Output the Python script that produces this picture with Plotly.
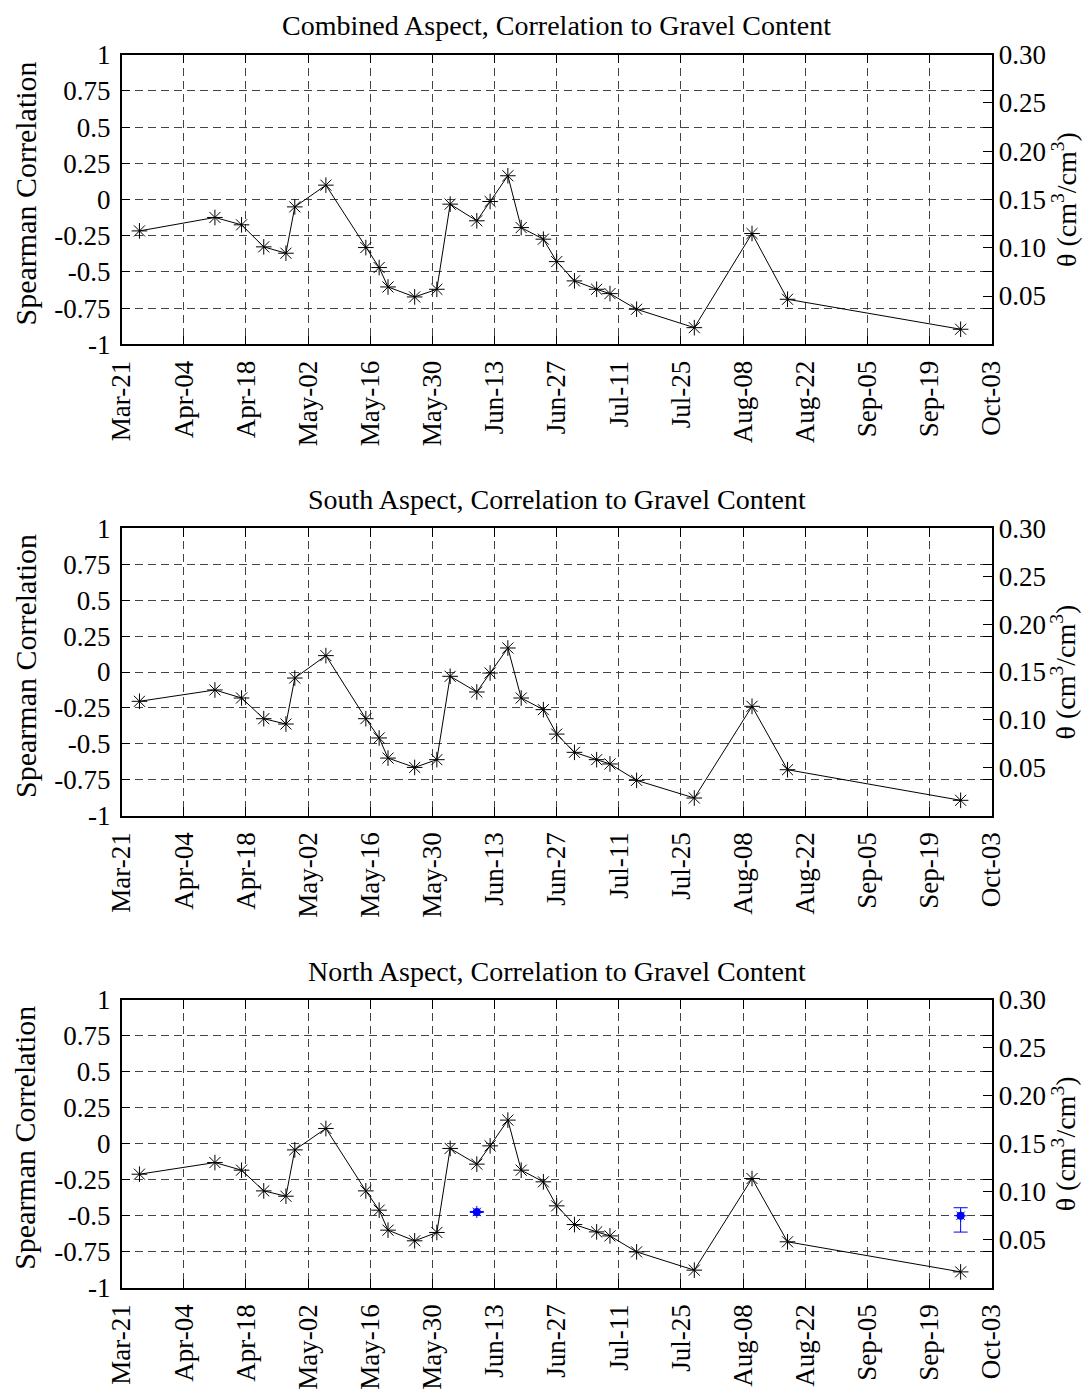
import plotly.graph_objects as go

# ---- data ----
dates = ["2009-03-25", "2009-04-11", "2009-04-17", "2009-04-22", "2009-04-27", "2009-04-29",
         "2009-05-06", "2009-05-15", "2009-05-18", "2009-05-20", "2009-05-26", "2009-05-31",
         "2009-06-03", "2009-06-09", "2009-06-12", "2009-06-16", "2009-06-19", "2009-06-24",
         "2009-06-27", "2009-07-01", "2009-07-06", "2009-07-09", "2009-07-15", "2009-07-28",
         "2009-08-10", "2009-08-18", "2009-09-26"]

combined = [-0.217, -0.124, -0.175, -0.327, -0.371, -0.051, 0.099, -0.332, -0.470, -0.604,
            -0.673, -0.620, -0.032, -0.147, -0.014, 0.164, -0.194, -0.274, -0.429, -0.562,
            -0.620, -0.650, -0.758, -0.885, -0.235, -0.689, -0.896]

south = [-0.204, -0.125, -0.181, -0.325, -0.362, -0.042, 0.114, -0.325, -0.459, -0.599,
         -0.664, -0.610, -0.030, -0.139, -0.007, 0.167, -0.181, -0.262, -0.432, -0.559,
         -0.610, -0.640, -0.754, -0.877, -0.239, -0.680, -0.893]

north = [-0.211, -0.130, -0.183, -0.327, -0.364, -0.042, 0.107, -0.327, -0.461, -0.600,
         -0.674, -0.616, -0.032, -0.141, -0.014, 0.165, -0.183, -0.264, -0.431, -0.561,
         -0.612, -0.640, -0.751, -0.878, -0.241, -0.681, -0.890]

theta_dates = ["2009-06-09", "2009-09-26"]
theta_vals = [0.079, 0.075]
theta_err_plus = [0.0005, 0.0084]
theta_err_minus = [0.0005, 0.017]

titles = ["Combined Aspect, Correlation to Gravel Content",
          "South Aspect, Correlation to Gravel Content",
          "North Aspect, Correlation to Gravel Content"]
series = [combined, south, north]

left_ticks = [-1, -0.75, -0.5, -0.25, 0, 0.25, 0.5, 0.75, 1]
left_labels = ["-1", "-0.75", "-0.5", "-0.25", "0", "0.25", "0.5", "0.75", "1"]
right_ticks = [0.05, 0.10, 0.15, 0.20, 0.25, 0.30]
right_labels = ["0.05", "0.10", "0.15", "0.20", "0.25", "0.30"]

left_title = "Spearman Correlation"
right_title = "θ (cm<sup>3</sup>/cm<sup>3</sup>)"

# ---- layout geometry (page has an 8px body margin) ----
OFF = 8
W, H = 1091 - 2 * OFF, 1397 - 2 * OFF
FONT = "Liberation Serif"
FS_TICK = 27
FS_TITLE = 28
FS_AXT = 30
FS_AXT_R = 28


def px_x(x):
    return (x - OFF) / W


def px_y(y):
    return 1 - (y - OFF) / H


xdom = [px_x(121.7), px_x(991.7)]
panels_px = [(54.7, 344.3), (528.3, 815.7), (1000.0, 1287.7)]

fig = go.Figure()
layout = dict(width=W, height=H, margin=dict(l=0, r=0, t=0, b=0, autoexpand=False),
              paper_bgcolor="white", plot_bgcolor="white", showlegend=False,
              font=dict(family=FONT, size=FS_TICK, color="black"), annotations=[])

for i, (top, bot) in enumerate(panels_px):
    k = i + 1
    xa = "x" if k == 1 else f"x{k}"
    ya = f"y{2 * k - 1}" if k > 1 else "y"
    ya2 = f"y{2 * k}"
    ydom = [px_y(bot), px_y(top)]

    fig.add_trace(go.Scatter(x=dates, y=series[i], mode="lines+markers",
                             line=dict(color="black", width=1),
                             marker=dict(symbol="asterisk-open", size=13, color="black",
                                         line=dict(color="black", width=1)),
                             xaxis=xa, yaxis=ya))
    if k == 3:
        fig.add_trace(go.Scatter(x=theta_dates, y=theta_vals, mode="markers",
                                 marker=dict(symbol="circle", size=8, color="blue",
                                             line=dict(width=0)),
                                 error_y=dict(type="data", array=theta_err_plus,
                                              arrayminus=theta_err_minus,
                                              color="blue", thickness=1, width=7),
                                 xaxis=xa, yaxis=ya2))
        fig.add_trace(go.Scatter(x=theta_dates, y=theta_vals, mode="markers",
                                 marker=dict(symbol="asterisk-open", size=10, color="blue",
                                             line=dict(color="blue", width=1)),
                                 xaxis=xa, yaxis=ya2))
    else:
        fig.add_trace(go.Scatter(x=[], y=[], xaxis=xa, yaxis=ya2))

    xkey = "xaxis" if k == 1 else f"xaxis{k}"
    ykey = "yaxis" if k == 1 else f"yaxis{2 * k - 1}"
    y2key = f"yaxis{2 * k}"

    layout[xkey] = dict(domain=xdom, anchor=ya, type="date", automargin=False,
                        range=["2009-03-21", "2009-10-03"],
                        tick0="2009-03-21", dtick=14 * 86400000, tickformat="%b-%d",
                        tickangle=-90, ticks="inside", ticklen=9, tickcolor="black",
                        ticklabelstandoff=4,
                        showline=True, linecolor="black", linewidth=1.5, mirror="ticks",
                        showgrid=True, gridcolor="#444", griddash="8px,5px", gridwidth=1,
                        zeroline=False, tickfont=dict(family=FONT, size=FS_TICK))
    layout[ykey] = dict(domain=ydom, anchor=xa, range=[-1, 1], automargin=False,
                        tickvals=left_ticks, ticktext=left_labels,
                        ticks="inside", ticklen=9, tickcolor="black",
                        ticklabelstandoff=4,
                        showline=True, linecolor="black", linewidth=1.5, mirror="ticks",
                        showgrid=True, gridcolor="#444", griddash="8px,5px", gridwidth=1,
                        zeroline=False, tickfont=dict(family=FONT, size=FS_TICK))
    layout[y2key] = dict(overlaying=ya, anchor=xa, side="right", range=[0, 0.3],
                         automargin=False,
                         tickvals=right_ticks, ticktext=right_labels,
                         ticks="inside", ticklen=9, tickcolor="black",
                         showline=True, linecolor="black", linewidth=1.5,
                         showgrid=False, zeroline=False, tickfont=dict(family=FONT, size=FS_TICK))
    yc = px_y((top + bot) / 2)
    layout["annotations"].append(dict(text=titles[i], xref="paper", yref="paper",
                                      x=(xdom[0] + xdom[1]) / 2, y=px_y(top - 29),
                                      xanchor="center", yanchor="middle", showarrow=False,
                                      font=dict(family=FONT, size=FS_TITLE)))
    layout["annotations"].append(dict(text=left_title, xref="paper", yref="paper",
                                      x=px_x(25), y=px_y((top + bot) / 2 - 6), textangle=-90,
                                      xanchor="center", yanchor="middle", showarrow=False,
                                      font=dict(family=FONT, size=FS_AXT)))
    layout["annotations"].append(dict(text=right_title, xref="paper", yref="paper",
                                      x=1.0, y=yc, textangle=-90,
                                      xanchor="right", yanchor="middle", showarrow=False,
                                      borderpad=0,
                                      font=dict(family=FONT, size=FS_AXT_R)))

fig.update_layout(**layout)
fig.write_html("out.html")
